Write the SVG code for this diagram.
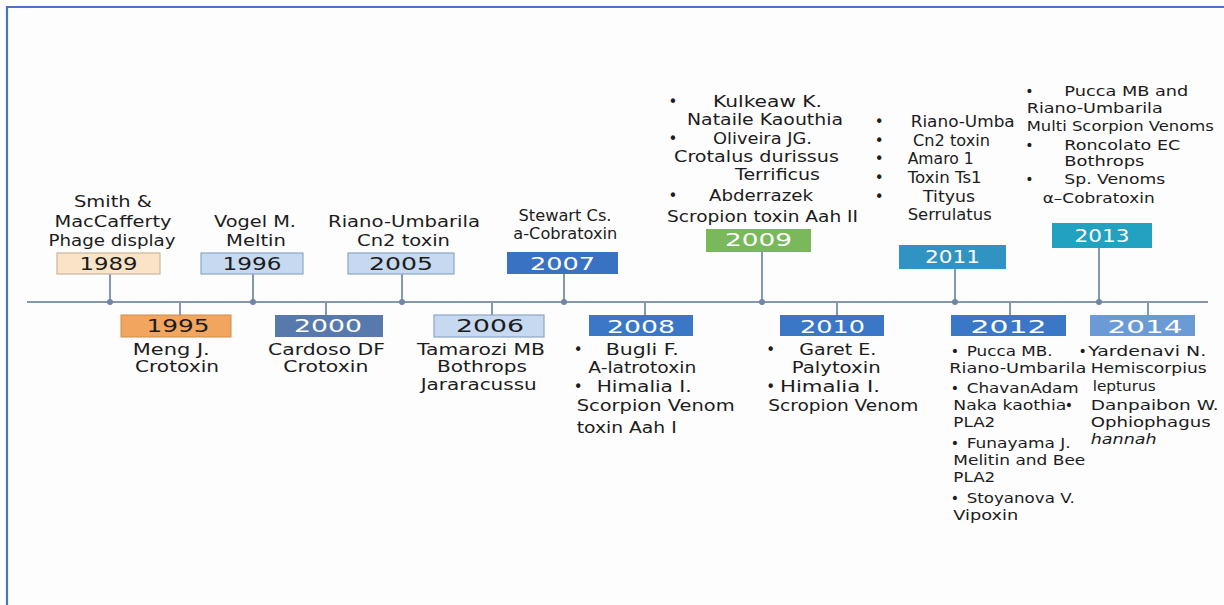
<svg xmlns="http://www.w3.org/2000/svg" width="1224" height="605" viewBox="0 0 1224 605">
<style>
text{font-family:"DejaVu Sans","Liberation Sans",sans-serif;fill:#1c1c1c}
.t{font-size:15px}
.s{font-size:14px}
.m{text-anchor:middle}
.yr{font-size:18px;text-anchor:middle}
.w{fill:#ffffff}
.it{font-style:italic}
.conn line{stroke:#8497b0;stroke-width:2}
.dot{fill:#6f86a6}
.lt{fill:#c6d9f0;stroke:#8ea7c6;stroke-width:1.2}
</style>
<rect x="0" y="0" width="1224" height="605" fill="#fdfdfd"/>
<g id="frame" stroke="#4a72c8" stroke-width="2.2" fill="none">
<line x1="7" y1="7" x2="1224" y2="7"/>
<line x1="7" y1="6" x2="7" y2="605"/>
</g>
<g id="connectors" class="conn">
<line x1="27" y1="302" x2="1208" y2="302"/>
<line x1="110" y1="274" x2="110" y2="302"/>
<line x1="253" y1="274" x2="253" y2="302"/>
<line x1="402" y1="274" x2="402" y2="302"/>
<line x1="564" y1="274" x2="564" y2="302"/>
<line x1="762" y1="252" x2="762" y2="302"/>
<line x1="955" y1="269" x2="955" y2="302"/>
<line x1="1099" y1="248" x2="1099" y2="302"/>
<line x1="180" y1="302" x2="180" y2="315"/>
<line x1="326" y1="302" x2="326" y2="315"/>
<line x1="492" y1="302" x2="492" y2="315"/>
<line x1="645" y1="302" x2="645" y2="315"/>
<line x1="837" y1="302" x2="837" y2="315"/>
<line x1="1010" y1="302" x2="1010" y2="315"/>
<line x1="1148" y1="302" x2="1148" y2="315"/>
<circle class="dot" cx="110" cy="302" r="3"/>
<circle class="dot" cx="253" cy="302" r="3"/>
<circle class="dot" cx="402" cy="302" r="3"/>
<circle class="dot" cx="564" cy="302" r="3"/>
<circle class="dot" cx="762" cy="302" r="3"/>
<circle class="dot" cx="955" cy="302" r="3"/>
<circle class="dot" cx="1099" cy="302" r="3"/>
</g>
<g id="n1989">
<rect x="57" y="253" width="103" height="21" fill="#fae4c7" stroke="#c9b89f" stroke-width="1.2"/>
<text class="yr" x="108.5" y="270" textLength="58" lengthAdjust="spacingAndGlyphs">1989</text>
<text class="t m" x="113" y="207" textLength="78" lengthAdjust="spacingAndGlyphs">Smith &amp;</text>
<text class="t m" x="113" y="227" textLength="117" lengthAdjust="spacingAndGlyphs">MacCafferty</text>
<text class="t m" x="112" y="246" textLength="127" lengthAdjust="spacingAndGlyphs">Phage display</text>
</g>
<g id="n1996">
<rect class="lt" x="201" y="253" width="102" height="21"/>
<text class="yr" x="252" y="270" textLength="59" lengthAdjust="spacingAndGlyphs">1996</text>
<text class="t m" x="255" y="227" textLength="82" lengthAdjust="spacingAndGlyphs">Vogel M.</text>
<text class="t m" x="256" y="246" textLength="60" lengthAdjust="spacingAndGlyphs">Meltin</text>
</g>
<g id="n2005">
<rect class="lt" x="348" y="253" width="106" height="21"/>
<text class="yr" x="401" y="270" textLength="64" lengthAdjust="spacingAndGlyphs">2005</text>
<text class="t m" x="404" y="227" textLength="152" lengthAdjust="spacingAndGlyphs">Riano-Umbarila</text>
<text class="t m" x="403.5" y="246" textLength="93" lengthAdjust="spacingAndGlyphs">Cn2 toxin</text>
</g>
<g id="n2007">
<rect x="507" y="252" width="111" height="22" fill="#3a72c3"/>
<text class="yr w" x="562.5" y="269.5" textLength="65" lengthAdjust="spacingAndGlyphs">2007</text>
<text class="t m" x="565" y="221" textLength="93" lengthAdjust="spacingAndGlyphs">Stewart Cs.</text>
<text class="t m" x="565.3" y="239" textLength="104" lengthAdjust="spacingAndGlyphs">a-Cobratoxin</text>
</g>
<g id="n2009">
<rect x="706" y="229" width="105" height="23" fill="#79b85b"/>
<text class="yr w" x="758.5" y="246" textLength="67" lengthAdjust="spacingAndGlyphs">2009</text>
<text class="t m" x="673" y="106.7">•</text>
<text class="t" x="713" y="106.7" textLength="109" lengthAdjust="spacingAndGlyphs">Kulkeaw K.</text>
<text class="t" x="687" y="125" textLength="156" lengthAdjust="spacingAndGlyphs">Nataile Kaouthia</text>
<text class="t m" x="673" y="144">•</text>
<text class="t" x="713" y="144" textLength="99" lengthAdjust="spacingAndGlyphs">Oliveira JG.</text>
<text class="t" x="674" y="162" textLength="165" lengthAdjust="spacingAndGlyphs">Crotalus durissus</text>
<text class="t" x="735" y="180" textLength="85" lengthAdjust="spacingAndGlyphs">Terrificus</text>
<text class="t m" x="673" y="200.7">•</text>
<text class="t" x="709" y="200.7" textLength="104" lengthAdjust="spacingAndGlyphs">Abderrazek</text>
<text class="t" x="667" y="221.7" textLength="191" lengthAdjust="spacingAndGlyphs">Scropion toxin Aah II</text>
</g>
<g id="n2011">
<rect x="899" y="245" width="107" height="24" fill="#2f94c1"/>
<text class="yr w" x="952.5" y="263" textLength="55" lengthAdjust="spacingAndGlyphs">2011</text>
<text class="t m" x="879.3" y="127.3">•</text>
<text class="t m" x="879.3" y="146">•</text>
<text class="t m" x="879.3" y="164">•</text>
<text class="t m" x="879.3" y="183.3">•</text>
<text class="t m" x="879.3" y="202.3">•</text>
<text class="t" x="910.7" y="127.3" textLength="104" lengthAdjust="spacingAndGlyphs">Riano-Umba</text>
<text class="t" x="913" y="146" textLength="77" lengthAdjust="spacingAndGlyphs">Cn2 toxin</text>
<text class="t" x="907.7" y="164" textLength="66" lengthAdjust="spacingAndGlyphs">Amaro 1</text>
<text class="t" x="907.7" y="183.3" textLength="74" lengthAdjust="spacingAndGlyphs">Toxin Ts1</text>
<text class="t" x="923" y="202.3" textLength="52" lengthAdjust="spacingAndGlyphs">Tityus</text>
<text class="t" x="907.7" y="220" textLength="84" lengthAdjust="spacingAndGlyphs">Serrulatus</text>
</g>
<g id="n2013">
<rect x="1052" y="223" width="100" height="25" fill="#22a1c1"/>
<text class="yr w" x="1102" y="242" textLength="55" lengthAdjust="spacingAndGlyphs">2013</text>
<text class="s m" x="1029.3" y="96">•</text>
<text class="s" x="1064.3" y="96" textLength="124" lengthAdjust="spacingAndGlyphs">Pucca MB and</text>
<text class="s" x="1026.7" y="113" textLength="136" lengthAdjust="spacingAndGlyphs">Riano-Umbarila</text>
<text class="s" x="1026.7" y="130.5" textLength="187" lengthAdjust="spacingAndGlyphs">Multi Scorpion Venoms</text>
<text class="s m" x="1029.3" y="149.5">•</text>
<text class="s" x="1064.3" y="149.5" textLength="116" lengthAdjust="spacingAndGlyphs">Roncolato EC</text>
<text class="s" x="1064.3" y="166" textLength="80" lengthAdjust="spacingAndGlyphs">Bothrops</text>
<text class="s m" x="1029.3" y="184">•</text>
<text class="s" x="1064.3" y="184" textLength="101" lengthAdjust="spacingAndGlyphs">Sp. Venoms</text>
<text class="s" x="1042.7" y="203.3" textLength="112" lengthAdjust="spacingAndGlyphs">α–Cobratoxin</text>
</g>
<g id="n1995">
<rect x="121" y="315" width="110" height="22" fill="#f1a55f" stroke="#cf8c4d" stroke-width="1"/>
<text class="yr" x="178" y="332" textLength="63" lengthAdjust="spacingAndGlyphs">1995</text>
<text class="t m" x="171.3" y="355" textLength="77" lengthAdjust="spacingAndGlyphs">Meng J.</text>
<text class="t m" x="177" y="372" textLength="84" lengthAdjust="spacingAndGlyphs">Crotoxin</text>
</g>
<g id="n2000">
<rect x="275" y="315" width="108" height="22" fill="#5879ab"/>
<text class="yr w" x="328" y="332" textLength="68" lengthAdjust="spacingAndGlyphs">2000</text>
<text class="t m" x="326.5" y="355" textLength="117" lengthAdjust="spacingAndGlyphs">Cardoso DF</text>
<text class="t m" x="325.8" y="372" textLength="85" lengthAdjust="spacingAndGlyphs">Crotoxin</text>
</g>
<g id="n2006">
<rect class="lt" x="434" y="315" width="110" height="22"/>
<text class="yr" x="490" y="332" textLength="68" lengthAdjust="spacingAndGlyphs">2006</text>
<text class="t m" x="481" y="355" textLength="128" lengthAdjust="spacingAndGlyphs">Tamarozi MB</text>
<text class="t m" x="482" y="372" textLength="90" lengthAdjust="spacingAndGlyphs">Bothrops</text>
<text class="t m" x="478.7" y="390" textLength="116" lengthAdjust="spacingAndGlyphs">Jararacussu</text>
</g>
<g id="n2008">
<rect x="589" y="315" width="104" height="21" fill="#3a77c7"/>
<text class="yr w" x="641" y="332.5" textLength="68" lengthAdjust="spacingAndGlyphs">2008</text>
<text class="t m" x="578.3" y="355">•</text>
<text class="t" x="605.7" y="355" textLength="73" lengthAdjust="spacingAndGlyphs">Bugli F.</text>
<text class="t" x="588.3" y="372.7" textLength="108" lengthAdjust="spacingAndGlyphs">A-latrotoxin</text>
<text class="t m" x="578.3" y="391.7">•</text>
<text class="t" x="596.7" y="391.7" textLength="95" lengthAdjust="spacingAndGlyphs">Himalia I.</text>
<text class="t" x="576.7" y="410.7" textLength="158" lengthAdjust="spacingAndGlyphs">Scorpion Venom</text>
<text class="t" x="576.7" y="432.7" textLength="100" lengthAdjust="spacingAndGlyphs">toxin Aah I</text>
</g>
<g id="n2010">
<rect x="780" y="315" width="104" height="21" fill="#3a77c7"/>
<text class="yr w" x="832.5" y="332.5" textLength="65" lengthAdjust="spacingAndGlyphs">2010</text>
<text class="t m" x="770.7" y="355">•</text>
<text class="t" x="799.3" y="355" textLength="77" lengthAdjust="spacingAndGlyphs">Garet E.</text>
<text class="t" x="791.7" y="372.7" textLength="89" lengthAdjust="spacingAndGlyphs">Palytoxin</text>
<text class="t m" x="770.7" y="391.7">•</text>
<text class="t" x="780" y="391.7" textLength="100" lengthAdjust="spacingAndGlyphs">Himalia I.</text>
<text class="t" x="768.3" y="410.7" textLength="150" lengthAdjust="spacingAndGlyphs">Scropion Venom</text>
</g>
<g id="n2012">
<rect x="951" y="315" width="115" height="21" fill="#3a77c7"/>
<text class="yr w" x="1008.5" y="332.5" textLength="76" lengthAdjust="spacingAndGlyphs">2012</text>
<text class="s m" x="955" y="355.5">•</text>
<text class="s" x="966.7" y="355.5" textLength="86" lengthAdjust="spacingAndGlyphs">Pucca MB.</text>
<text class="s" x="949.3" y="372.5" textLength="137" lengthAdjust="spacingAndGlyphs">Riano-Umbarila</text>
<text class="s m" x="955" y="393.3">•</text>
<text class="s" x="966.7" y="393.3" textLength="112" lengthAdjust="spacingAndGlyphs">ChavanAdam</text>
<text class="s" x="953.3" y="410" textLength="113" lengthAdjust="spacingAndGlyphs">Naka kaothia</text>
<text class="s" x="953.3" y="426.7" textLength="42" lengthAdjust="spacingAndGlyphs">PLA2</text>
<text class="s m" x="955" y="447.7">•</text>
<text class="s" x="966.7" y="447.7" textLength="104" lengthAdjust="spacingAndGlyphs">Funayama J.</text>
<text class="s" x="953.3" y="464.7" textLength="132" lengthAdjust="spacingAndGlyphs">Melitin and Bee</text>
<text class="s" x="953.3" y="481.7" textLength="42" lengthAdjust="spacingAndGlyphs">PLA2</text>
<text class="s m" x="955" y="502.5">•</text>
<text class="s" x="966.7" y="502.5" textLength="108" lengthAdjust="spacingAndGlyphs">Stoyanova V.</text>
<text class="s" x="953.3" y="519.5" textLength="65" lengthAdjust="spacingAndGlyphs">Vipoxin</text>
</g>
<g id="n2014">
<rect x="1090" y="315" width="105" height="21" fill="#6b9bd7"/>
<text class="yr w" x="1145" y="332.5" textLength="75" lengthAdjust="spacingAndGlyphs">2014</text>
<text class="s m" x="1082.7" y="355.5">•</text>
<text class="s" x="1088.3" y="355.5" textLength="118" lengthAdjust="spacingAndGlyphs">Yardenavi N.</text>
<text class="s" x="1090.7" y="372.5" textLength="116" lengthAdjust="spacingAndGlyphs">Hemiscorpius</text>
<text class="s" x="1092.7" y="391" textLength="63" lengthAdjust="spacingAndGlyphs">lepturus</text>
<text class="s m" x="1069" y="410">•</text>
<text class="s" x="1090.7" y="410" textLength="128" lengthAdjust="spacingAndGlyphs">Danpaibon W.</text>
<text class="s" x="1090.7" y="426.7" textLength="120" lengthAdjust="spacingAndGlyphs">Ophiophagus</text>
<text class="s it" x="1090.7" y="443.5" textLength="66" lengthAdjust="spacingAndGlyphs">hannah</text>
</g>
</svg>
